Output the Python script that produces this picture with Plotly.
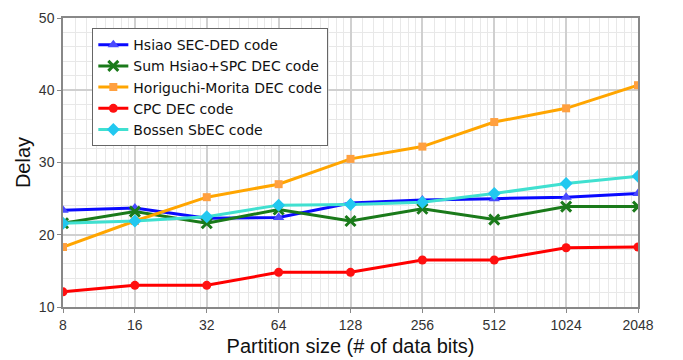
import plotly.graph_objects as go

partition_sizes = [8, 16, 32, 64, 128, 256, 512, 1024, 2048]
tick_labels = ["8", "16", "32", "64", "128", "256", "512", "1024", "2048"]

hsiao_sec_ded = [23.4, 23.7, 22.3, 22.4, 24.4, 24.8, 25.0, 25.2, 25.7]
sum_hsiao_spc = [21.6, 23.2, 21.6, 23.5, 21.9, 23.6, 22.1, 23.9, 23.9]
horiguchi_morita = [18.3, 21.9, 25.2, 27.0, 30.5, 32.2, 35.6, 37.5, 40.7]
cpc_dec = [12.1, 13.0, 13.0, 14.8, 14.8, 16.5, 16.5, 18.2, 18.3]
bossen_sbec = [21.6, 21.9, 22.5, 24.1, 24.2, 24.5, 25.7, 27.1, 28.1]

series = [
    ("Hsiao SEC-DED code", hsiao_sec_ded, "#0a0aff", "#4a4aff", "triangle-up", 10),
    ("Sum Hsiao+SPC DEC code", sum_hsiao_spc, "#1a7a1a", "#1a7a1a", "x-thin", 10),
    ("Horiguchi-Morita DEC code", horiguchi_morita, "#ffa500", "#ffa040", "square", 8),
    ("CPC DEC code", cpc_dec, "#ff0000", "#ff1010", "circle", 9),
    ("Bossen SbEC code", bossen_sbec, "#40e0d0", "#22c8f0", "diamond", 10),
]

fig = go.Figure()
for name, vals, lc, mc, sym, sz in series:
    marker = dict(symbol=sym, size=sz, color=mc)
    if sym == "x-thin":
        marker["line"] = dict(width=3, color=mc)
    fig.add_trace(go.Scatter(
        x=partition_sizes, y=vals, name=name, mode="lines+markers",
        line=dict(color=lc, width=3), marker=marker,
    ))

minor_x = [v * (1 + k / 8) for v in partition_sizes[:-1] for k in range(1, 8)]

fig.update_layout(
    width=683, height=360,
    margin=dict(l=63, r=45, t=18, b=53),
    paper_bgcolor="white", plot_bgcolor="white",
    font=dict(family="Liberation Sans, Arial, sans-serif", color="#222"),
    showlegend=True,
    legend=dict(
        x=0.051, y=0.965, xanchor="left", yanchor="top",
        bgcolor="white", bordercolor="#666", borderwidth=1,
        font=dict(family="DejaVu Sans", size=14, color="#111"),
        tracegroupgap=0, itemwidth=30,
    ),
)

fig.update_xaxes(
    type="log", automargin=False,
    range=[0.9031, 3.3113],
    tickmode="array", tickvals=partition_sizes, ticktext=tick_labels,
    tickfont=dict(size=14, color="#333"),
    ticks="outside", ticklen=4, tickcolor="#888",
    showgrid=True, gridcolor="#d0d0d0", gridwidth=1.5,
    minor=dict(tickmode="array", tickvals=minor_x, showgrid=True,
               gridcolor="#e8e8e8", gridwidth=1),
    showline=True, linecolor="#888", linewidth=1.5, mirror=True,
    zeroline=False,
    title=dict(text="Partition size (# of data bits)",
               font=dict(size=20, color="#111"), standoff=7),
)
fig.update_yaxes(
    automargin=False,
    range=[10, 50], tickmode="linear", tick0=10, dtick=10,
    tickfont=dict(size=14, color="#333"),
    ticks="outside", ticklen=4, tickcolor="#888",
    showgrid=True, gridcolor="#d0d0d0", gridwidth=1.5,
    minor=dict(dtick=2, showgrid=True, gridcolor="#e8e8e8", gridwidth=1),
    showline=True, linecolor="#888", linewidth=1.5, mirror=True,
    zeroline=False,
    title=dict(text="Delay", font=dict(size=20, color="#111"), standoff=3),
)

fig.write_html("out.html")
